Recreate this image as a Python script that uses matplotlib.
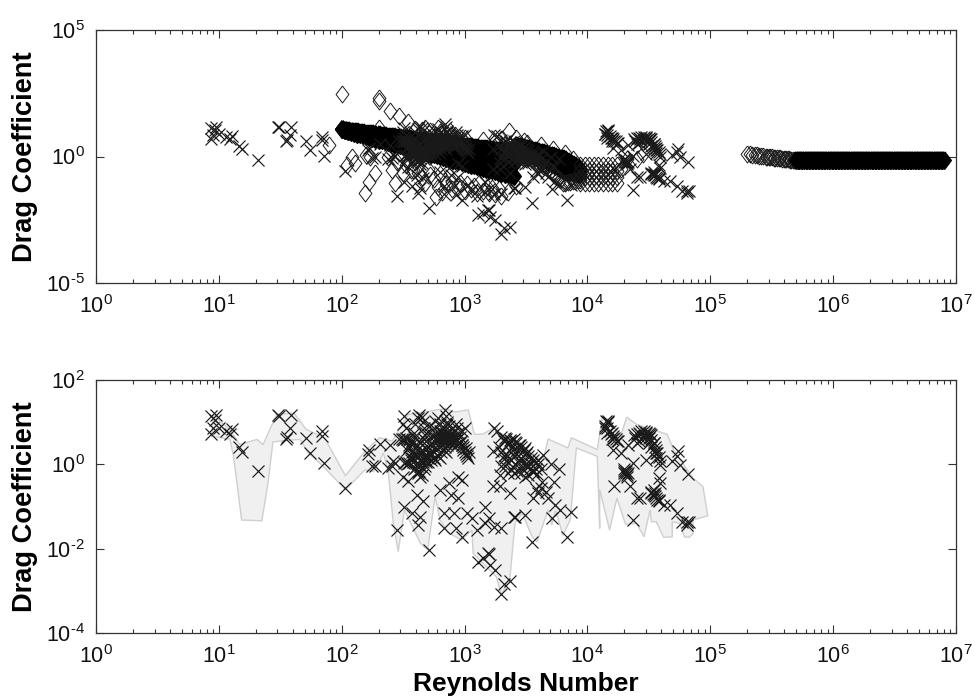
import numpy as np
import matplotlib
matplotlib.use('Agg')
import matplotlib.pyplot as plt
from matplotlib.ticker import LogLocator, NullLocator, NullFormatter, FixedLocator

plt.rcParams['font.family'] = 'Liberation Sans'
plt.rcParams['mathtext.fontset'] = 'custom'
plt.rcParams['mathtext.rm'] = 'Liberation Sans'
plt.rcParams['mathtext.default'] = 'regular'

# all values as log10(Re) and log10(Cd)

# measured points, same in both panels
cross_re = [
    .94, .955, .94, .98, .97, 1.0, 1.06, 1.11, 1.09, 1.16,
    1.19, 1.32, 1.48, 1.49, 1.59, 1.58, 1.55, 1.555, 1.71, 1.74,
    1.84, 1.84, 1.855, 2.03, 2.22, 2.31, 2.25, 2.27, 2.21, 2.39,
    2.42, 2.41, 2.38, 2.43, 2.45, 2.51, 2.57, 2.61, 2.66, 2.64,
    2.62, 2.71, 2.54, 2.50, 2.80, 2.87, 2.95, 2.98, 2.89, 2.95,
    2.83, 2.91, 2.83, 2.93, 2.975, 3.02, 3.06, 3.10, 3.11, 3.19,
    2.51, 2.50, 2.52, 2.47, 2.49, 2.50, 2.51, 2.52, 2.53, 2.55,
    2.51, 2.53, 2.52, 2.55, 2.56, 2.57, 2.58, 2.59, 2.60, 2.62,
    2.63, 2.65, 2.66, 2.67, 2.68, 2.69, 2.70, 2.71, 2.64, 2.62,
    2.60, 2.61, 2.63, 2.65, 2.67, 2.69, 2.70, 2.72, 2.73, 2.74,
    2.75, 2.76, 2.78, 2.80, 2.81, 2.82, 2.83, 2.84, 2.85, 2.86,
    2.87, 2.88, 2.89, 2.90, 2.91, 2.92, 2.93, 2.94, 2.95, 2.96,
    2.97, 2.98, 2.99, 3.00, 3.01, 3.02, 3.03, 3.04, 2.98, 3.00,
    2.76, 2.78, 2.80, 2.82, 2.84, 2.86, 2.88, 2.83, 2.85, 2.87,
    2.75, 2.77, 2.79, 2.81, 2.83, 2.85, 2.73, 2.75, 2.78, 2.80,
    2.66, 2.68, 2.64, 2.66, 2.68, 2.62, 2.64, 2.60, 2.59, 2.57,
    2.84, 2.86, 2.85, 2.87, 2.89, 2.88, 2.90, 2.86, 2.84, 2.82,
    # second pass over the dense core
    2.53, 2.55, 2.57, 2.59, 2.61, 2.63, 2.65, 2.67, 2.69, 2.71,
    2.56, 2.58, 2.60, 2.62, 2.64, 2.66, 2.68, 2.70, 2.72, 2.74,
    2.55, 2.58, 2.61, 2.64, 2.67, 2.70, 2.73, 2.76, 2.79, 2.82,
    2.74, 2.77, 2.80, 2.83, 2.86, 2.89, 2.92, 2.95, 2.98, 3.01,
    2.72, 2.75, 2.78, 2.81, 2.84, 2.87, 2.90, 2.93, 2.96, 2.99,
    3.24, 3.26, 3.30, 3.32, 3.34, 3.36, 3.38, 3.40, 3.42, 3.44,
    3.46, 3.48, 3.50, 3.52, 3.54, 3.56, 3.58, 3.60, 3.62, 3.63,
    3.28, 3.30, 3.32, 3.34, 3.36, 3.38, 3.40, 3.42, 3.44, 3.46,
    3.48, 3.50, 3.52, 3.54, 3.56, 3.58, 3.60, 3.64, 3.30, 3.33,
    3.35, 3.38, 3.40, 3.43, 3.46, 3.49, 3.52, 3.23, 3.23, 3.29,
    3.37, 3.29, 3.70, 3.77, 3.73, 3.56, 3.60, 3.68, 3.74, 3.78,
    3.87, 3.71, 3.83, 3.55, 3.49, 3.40, 3.41, 3.62, 3.58, 3.66,
    3.17, 3.20, 3.17, 3.24, 3.30, 3.20, 3.15, 3.21, 3.25, 3.32,
    3.33, 3.35, 3.37, 3.39, 3.41, 3.43, 3.45, 3.47, 3.49, 3.51,
    3.32, 3.35, 3.38, 3.41, 3.44, 3.47, 3.50, 3.53, 3.56, 3.59,
    3.37, 3.30, 4.165, 4.14, 4.20, 4.22, 4.16, 4.25, 4.21, 4.27,
    4.33, 4.39, 4.43, 4.48, 4.51, 4.54, 4.56, 4.59, 4.58, 4.59,
    4.55, 4.52, 4.58, 4.62, 4.67, 4.73, 4.77, 4.81, 4.83, 4.81,
    4.37, 4.43, 4.40, 4.31, 4.30, 4.32, 4.22, 4.35, 4.37, 4.48,
    4.74, 4.73, 4.69, 4.75, 4.82, 4.38, 4.40, 4.42, 4.44, 4.46,
    4.48, 4.50, 4.52, 4.46, 4.48, 4.50, 4.52, 4.54, 4.55, 4.56,
    4.57, 4.58, 4.59, 4.50, 4.52, 4.54, 4.56, 4.44, 4.42, 4.40,
    4.15, 4.17, 4.14, 4.16, 4.18, 4.19, 4.21, 4.23, 4.20, 4.24,
    4.30, 4.31, 4.32, 4.30, 4.33, 4.52, 4.53, 4.54, 4.55, 4.56,
    4.57, 4.58, 4.54,
]
cross_cd = [
    .71, .865, 1.14, 1.18, 1.06, .87, .79, .83, .71, .41,
    .29, -.15, 1.16, 1.15, 1.18, .85, .60, .65, .63, .27,
    .79, .67, .03, -.56, .33, .48, -.05, -.03, .25, .47,
    .07, -.05, -.09, .03, -1.56, -1.0, -1.16, -.72, -.86, -1.24,
    -1.44, -2.03, -.4, -.29, -.6, -.44, -.29, -.38, -.72, -.8,
    -1.16, -1.16, -1.5, -1.52, -1.73, -1.16, -1.28, -1.56, -2.31, -2.11,
    1.14, .95, .85, .6, .6, .58, .6, .62, .6, .58,
    .02, 0, .05, .02, .1, .3, .5, .75, .95, 1.1,
    1.18, 1.12, 1.0, .85, .7, .55, .4, .25, .3, .2,
    .1, -.05, -.15, -.25, -.1, .05, .15, .3, .5, .65,
    .85, 1.02, 1.1, .95, .8, .65, .5, 1.3, 1.15, 1.0,
    .9, .8, .7, .6, .5, .4, .95, .85, .75, .65,
    .55, .45, .35, .3, .25, .2, .15, .3, .8, .85,
    .6, .55, .5, .45, .4, .45, .5, .7, .75, .6,
    .3, .35, .4, .3, .35, .3, .1, .15, .2, .15,
    .3, .2, .1, .05, -.05, -.2, -.3, .25, -.1, .15,
    .55, .55, .65, .7, .6, .65, .75, .62, .62, .6,
    .35, .45, .55, .65, .45, .55, .35, .6, .75, .9,
    .15, .05, -.08, -.15, -.05, .15, .1, .4, .25, .45,
    .4, .25, .35, .5, .2, .05, .25, .1, .6, .75,
    .7, .72, .8, .85, .95, .55, .6, .5, .45, .38,
    .45, .55, .62, .68, .72, .68, .65, .58, .5, .42,
    .85, .8, .65, .55, .6, .5, .55, .6, .5, .45,
    .4, .35, .25, .2, .15, .1, .05, 0, -.1, -.41,
    .4, .3, .2, .25, .15, .3, .2, .25, .1, .15,
    .05, 0, -.05, 0, -.15, -.1, .1, .23, -.05, -.05,
    -.2, -.1, -.2, -.15, -.2, -.3, -.25, .31, -.51, -.51,
    -.67, -.25, 0, -.11, -.41, -.8, -.68, -.8, -.96, -1.08,
    -1.14, -1.28, -1.72, -1.84, -1.2, -1.26, -1.25, -.55, -.58, -.65,
    -1.0, -1.28, -1.4, -1.48, -1.5, -2.12, -2.23, -2.39, -2.5, -2.83,
    .62, .48, .58, .4, .52, .35, .45, .3, .38, .3,
    .12, .05, .1, 0, .02, -.08, -.05, -.12, -.18, -.22,
    -2.77, -3.07, 1.03, .87, .75, .63, .75, .55, .35, .27,
    .47, .63, .71, .75, .71, .51, .27, -.01, -.33, -.45,
    -.68, -.68, -.84, -.96, -.96, -1.16, -1.36, -1.36, -1.36, -1.44,
    -1.32, -.8, -.8, -.21, -.15, -.3, -.51, -.51, .03, .11,
    .31, .19, .07, -.01, -.22, .70, .72, .75, .78, .78,
    .76, .74, .70, .68, .66, .62, .58, .50, .42, .34,
    .26, .18, .08, .50, .42, .30, .15, .60, .55, .50,
    1.02, 1.0, .9, .85, .8, .72, .68, .6, .6, .55,
    -.2, -.15, -.25, -.1, -.2, -.65, -.7, -.62, -.75, -.8,
    -.85, -.88, -.72,
]

# grey band behind the crosses, lower panel
band_re = [
    .955, 1.01, 1.09, 1.17, 1.31, 1.36, 1.47, 1.61, 1.71, 1.86,
    2.03, 2.20, 2.31, 2.41, 2.54, 2.84, 2.92, 3.03, 3.08, 3.15,
    3.26, 3.29, 3.48, 3.60, 3.64, 3.68, 3.84, 3.87, 4.08, 4.12,
    4.17, 4.27, 4.32, 4.40, 4.65, 4.70, 4.86, 4.94, 4.98,
    4.86, 4.86, 4.83, 4.79, 4.75, 4.69, 4.69, 4.62, 4.56, 4.52,
    4.51, 4.46, 4.40, 4.31, 4.24, 4.18, 4.10, 4.10, 4.08, 3.91,
    3.86, 3.80, 3.74, 3.71, 3.68, 3.59, 3.55, 3.47, 3.41, 3.37,
    3.30, 3.26, 3.15, 3.07, 3.06, 2.975, 2.87, 2.80, 2.76, 2.70,
    2.64, 2.51, 2.46, 2.42, 2.38, 2.34, 2.26, 2.19, 2.03, 1.85,
    1.73, 1.66, 1.55, 1.44, 1.40, 1.35, 1.185, 1.12, 1.09, .94,
]
band_cd = [
    1.18, 1.02, .83, .47, .59, .47, 1.18, 1.22, .83, .63,
    -.27, .35, .63, .55, 1.18, 1.32, 1.24, 1.29, .71, .72,
    .90, .71, .43, .15, .11, .60, .39, .63, .35, 1.11,
    1.07, .67, 1.12, .95, .71, .35, -.33, -.53, -1.22,
    -1.32, -1.64, -1.73, -1.72, -1.40, -1.36, -1.72, -1.73, -1.36, -1.36,
    -1.08, -1.72, -1.40, -1.42, -.80, -1.56, -.60, -1.52, .19, .39,
    -1.32, -1.68, -1.08, -1.44, -1.08, -1.84, -1.72, -1.16, -1.40, -2.67,
    -3.11, -2.67, -2.35, -2.11, -1.56, -1.79, -1.63, -1.32, -.76, -2.03,
    -1.87, -1.08, -2.07, -1.40, -.21, .27, -.17, -.13, -.60, -.05,
    .27, .59, .57, .53, -.44, -1.34, -1.32, .19, .59, .67,
]

# loose diamonds, upper panel
diam_re = [
    2.0, 2.3, 2.3, 2.39, 2.47, 2.54, 1.9, 2.08, 2.04, 2.11,
    2.2, 2.3, 2.19, 2.22, 2.27, 2.23, 2.38, 2.41, 2.43, 2.5,
    2.58, 2.77, 2.82, 2.6, 2.65, 2.7, 2.75, 2.8, 2.85, 2.9,
    2.95, 3.0, 3.05, 3.1, 3.15, 3.2, 3.25, 3.3, 3.35, 3.42,
    2.6, 2.68, 2.78, 2.88, 3.0, 3.15, 3.25, 3.3, 3.36, 3.42,
    3.48, 3.51, 3.62, 3.72, 3.82, 3.88, 4.27, 4.32, 4.4, 4.45,
    2.45, 2.52, 2.56, 2.62, 2.68, 2.72, 2.78, 2.84, 2.9, 2.96,
    3.02, 3.08, 3.12, 3.18, 3.22, 3.28, 2.65, 2.72, 2.8, 2.92,
]
diam_cd = [
    2.47, 2.31, 2.18, 1.81, 1.59, 1.35, .44, 0, -.33, -.26,
    .07, 1.12, -1.43, -.99, -.66, 0, 0, -.53, -1.03, -.66,
    -.53, -1.59, -1.4, -.2, -.8, -.5, -.9, -.7, -1.1, -1.3,
    -1.2, -1.35, -1.3, -1.45, -1.35, -1.45, -1.5, -1.55, -1.4, -1.15,
    1.1, 1.12, 1.12, 1.0, .75, .65, .75, .7, .99, .75,
    .6, .53, .46, .3, .13, -.1, -.5, -.1, -.1, .1,
    -.2, -.35, -.55, -.65, -1.05, -.75, -1.2, -.95, -1.0, -1.05,
    -1.1, -1.15, -1.05, -1.2, -1.25, -1.3, 1.05, 1.0, .95, .85,
]

# solid black wedge Re 100 - 2500
wedge_re = [
    2.000, 2.025, 2.050, 2.075, 2.100, 2.125, 2.150, 2.175, 2.200, 2.225,
    2.250, 2.275, 2.300, 2.325, 2.350, 2.375, 2.400, 2.425, 2.450, 2.475,
    2.500, 2.525, 2.550, 2.575, 2.600, 2.625, 2.650, 2.675, 2.700, 2.725,
    2.750, 2.775, 2.800, 2.825, 2.850, 2.875, 2.900, 2.925, 2.950, 2.975,
    3.000, 3.025, 3.050, 3.075, 3.100, 3.125, 3.150, 3.175, 3.200, 3.225,
    3.250, 3.275, 3.300, 3.325, 3.350, 3.375, 3.400,
]
wedge_upper = [
    1.07, 1.05, 1.04, 1.02, 1.01, .99, .97, .96, .94, .93,
    .91, .90, .88, .86, .85, .83, .82, .80, .78, .77,
    .75, .74, .72, .70, .69, .67, .66, .64, .63, .61,
    .59, .58, .56, .55, .53, .51, .50, .48, .47, .45,
    .43, .42, .40, .39, .37, .35, .34, .32, .31, .29,
    .27, .26, .24, .23, .21, .20, .18,
]
wedge_mid = [
    1.07, 1.05, 1.02, 1.00, .97, .95, .92, .90, .87, .85,
    .83, .80, .78, .75, .73, .70, .68, .65, .63, .61,
    .58, .56, .53, .51, .48, .46, .43, .41, .38, .36,
    .34, .31, .29, .26, .24, .21, .19, .16, .14, .12,
    .09, .07, .04, .02, -.01, -.03, -.06, -.08, -.10, -.13,
    -.15, -.18, -.20, -.23, -.25, -.28, -.30,
]
wedge_lower = [
    1.07, 1.04, 1.00, .97, .94, .90, .87, .84, .81, .77,
    .74, .71, .67, .64, .61, .57, .54, .51, .48, .44,
    .41, .38, .34, .31, .28, .24, .21, .18, .14, .11,
    .08, .05, .01, -.02, -.05, -.09, -.12, -.15, -.19, -.22,
    -.25, -.28, -.32, -.35, -.38, -.42, -.45, -.48, -.52, -.55,
    -.58, -.62, -.65, -.68, -.71, -.75, -.78,
]

# dense diamonds Re 2600 - 9000
tail_re = [
    3.42, 3.44, 3.46, 3.48, 3.50, 3.52, 3.54, 3.56, 3.58, 3.60,
    3.62, 3.64, 3.66, 3.68, 3.70, 3.72, 3.74, 3.76, 3.78, 3.80,
    3.82, 3.84, 3.86, 3.88, 3.90, 3.92, 3.94,
]
tail_upper = [
    .45, .43, .40, .38, .35, .32, .29, .27, .24, .21,
    .18, .16, .13, .10, .07, .05, .02, -.01, -.04, -.07,
    -.11, -.17, -.23, -.29, -.35, -.42, -.48,
]
tail_mid = [
    .25, .23, .21, .19, .17, .14, .11, .07, .03, -.02,
    -.06, -.10, -.15, -.20, -.26, -.31, -.37, -.43, -.49, -.55,
    -.58, -.60, -.62, -.64, -.66, -.68, -.70,
]
tail_lower = [
    .05, .03, .02, 0, -.02, -.04, -.08, -.13, -.19, -.25,
    -.30, -.36, -.42, -.49, -.58, -.67, -.76, -.85, -.94, -1.03,
    -1.04, -1.02, -1.0, -.98, -.96, -.93, -.91,
]

# lattice of diamonds Re 1e4 - 2e4
lattice_re = [3.94, 3.9775, 4.015, 4.0525, 4.09, 4.1275, 4.165, 4.2025, 4.24]
lattice_rows = [-.34, -.58, -.82, -1.06]

# high Re series, open then solid
high_open_re = [
    5.30, 5.32, 5.34, 5.36, 5.38, 5.40, 5.41, 5.43, 5.45, 5.46,
    5.48, 5.49, 5.505, 5.52, 5.53, 5.54, 5.56, 5.57, 5.58, 5.60,
    5.61, 5.62, 5.63, 5.64, 5.65, 5.66, 5.67, 5.68, 5.69, 5.70,
]
high_open_cd = [
    .09, .08, .07, .06, .05, .03, .03, .02, 0, 0,
    -.02, -.02, -.03, -.04, -.05, -.05, -.07, -.07, -.08, -.09,
    -.10, -.10, -.11, -.11, -.12, -.13, -.13, -.14, -.14, -.15,
]
high_solid_re = [
    5.70, 5.7125, 5.725, 5.7375, 5.75, 5.7625, 5.775, 5.7875, 5.80, 5.8125,
    5.825, 5.8375, 5.85, 5.8625, 5.875, 5.8875, 5.90, 5.9125, 5.925, 5.9375,
    5.95, 5.9625, 5.975, 5.9875, 6.00, 6.0125, 6.025, 6.0375, 6.05, 6.0625,
    6.075, 6.0875, 6.10, 6.1125, 6.125, 6.1375, 6.15, 6.1625, 6.175, 6.1875,
    6.20, 6.2125, 6.225, 6.2375, 6.25, 6.2625, 6.275, 6.2875, 6.30, 6.3125,
    6.325, 6.3375, 6.35, 6.3625, 6.375, 6.3875, 6.40, 6.4125, 6.425, 6.4375,
    6.45, 6.4625, 6.475, 6.4875, 6.50, 6.5125, 6.525, 6.5375, 6.55, 6.5625,
    6.575, 6.5875, 6.60, 6.6125, 6.625, 6.6375, 6.65, 6.6625, 6.675, 6.6875,
    6.70, 6.7125, 6.725, 6.7375, 6.75, 6.7625, 6.775, 6.7875, 6.80, 6.8125,
    6.825, 6.8375, 6.85, 6.8625, 6.875, 6.8875, 6.90,
]
high_solid_cd = -0.15

top_yticks = [1e-5, 1e0, 1e5]
top_ylabels = [r'$10^{\text{-}5}$', r'$10^{0}$', r'$10^{5}$']
bot_yticks = [1e-4, 1e-2, 1e0, 1e2]
bot_ylabels = [r'$10^{\text{-}4}$', r'$10^{\text{-}2}$', r'$10^{0}$', r'$10^{2}$']
xticks = [1e0, 1e1, 1e2, 1e3, 1e4, 1e5, 1e6, 1e7]
xlabels = [r'$10^{%d}$' % i for i in range(8)]

INK = '#1a1a1a'
DIAMOND = [(0, .5), (.38, 0), (0, -.5), (-.38, 0), (0, .5)]


def diamonds(ax, re, cd, filled=False):
    ax.plot(10.0 ** np.array(re), 10.0 ** np.array(cd), linestyle='none', marker=DIAMOND,
            markersize=12.2, markeredgewidth=1.5 if filled else .7,
            markeredgecolor='black' if filled else INK,
            markerfacecolor='black' if filled else 'none')


def crosses(ax):
    ax.plot(10.0 ** np.array(cross_re), 10.0 ** np.array(cross_cd), linestyle='none', marker='x',
            markersize=8.4, markeredgewidth=.85, color=INK)


def setup(ax, yticks, ylabels):
    ax.set_xscale('log')
    ax.set_yscale('log')
    ax.set_xlim(1, 1e7)
    ax.set_ylim(yticks[0], yticks[-1])
    ax.xaxis.set_major_locator(FixedLocator(xticks))
    ax.set_xticklabels(xlabels)
    ax.xaxis.set_minor_locator(LogLocator(base=10, subs=range(2, 10), numticks=20))
    ax.xaxis.set_minor_formatter(NullFormatter())
    ax.yaxis.set_major_locator(FixedLocator(yticks))
    ax.set_yticklabels(ylabels)
    ax.yaxis.set_minor_locator(NullLocator())
    ax.tick_params(which='major', direction='in', top=True, right=True, length=6, width=.8,
                   color='#333333', labelsize=15.5, labelcolor='#111111')
    ax.tick_params(axis='x', which='major', pad=9)
    ax.tick_params(axis='y', which='major', pad=8)
    ax.tick_params(which='minor', direction='in', top=True, right=True, length=3, width=.8, color='#333333')
    for s in ax.spines.values():
        s.set_linewidth(.9)
        s.set_color('#333333')
    ax.set_ylabel('Drag Coefficient', fontsize=19.6, fontweight='bold')
    ax.yaxis.set_label_coords(-.068, .5)


fig = plt.figure(figsize=(9.74, 7.0), dpi=100)
ax1 = fig.add_axes([96 / 974, (700 - 283) / 700, 860 / 974, 253 / 700])
ax2 = fig.add_axes([96 / 974, (700 - 633) / 700, 860 / 974, 253 / 700])

# upper panel
diamonds(ax1, diam_re, diam_cd)
diamonds(ax1, wedge_re, wedge_upper, filled=True)
diamonds(ax1, wedge_re, wedge_mid, filled=True)
diamonds(ax1, wedge_re, wedge_lower, filled=True)
diamonds(ax1, tail_re, tail_upper, filled=True)
diamonds(ax1, tail_re, tail_mid, filled=True)
diamonds(ax1, tail_re, tail_lower)
for row in lattice_rows:
    diamonds(ax1, lattice_re, [row] * len(lattice_re))
diamonds(ax1, high_open_re, high_open_cd)
diamonds(ax1, high_solid_re, [high_solid_cd] * len(high_solid_re), filled=True)
crosses(ax1)
setup(ax1, top_yticks, top_ylabels)

# lower panel
ax2.fill(10.0 ** np.array(band_re), 10.0 ** np.array(band_cd), facecolor='#f0f0f0', edgecolor='#cfcfcf', linewidth=1)
crosses(ax2)
setup(ax2, bot_yticks, bot_ylabels)
ax2.set_xlabel('Reynolds Number', fontsize=19, fontweight='bold')
ax2.xaxis.set_label_coords(.5, -.155)

fig.savefig('out.png', dpi=100)
